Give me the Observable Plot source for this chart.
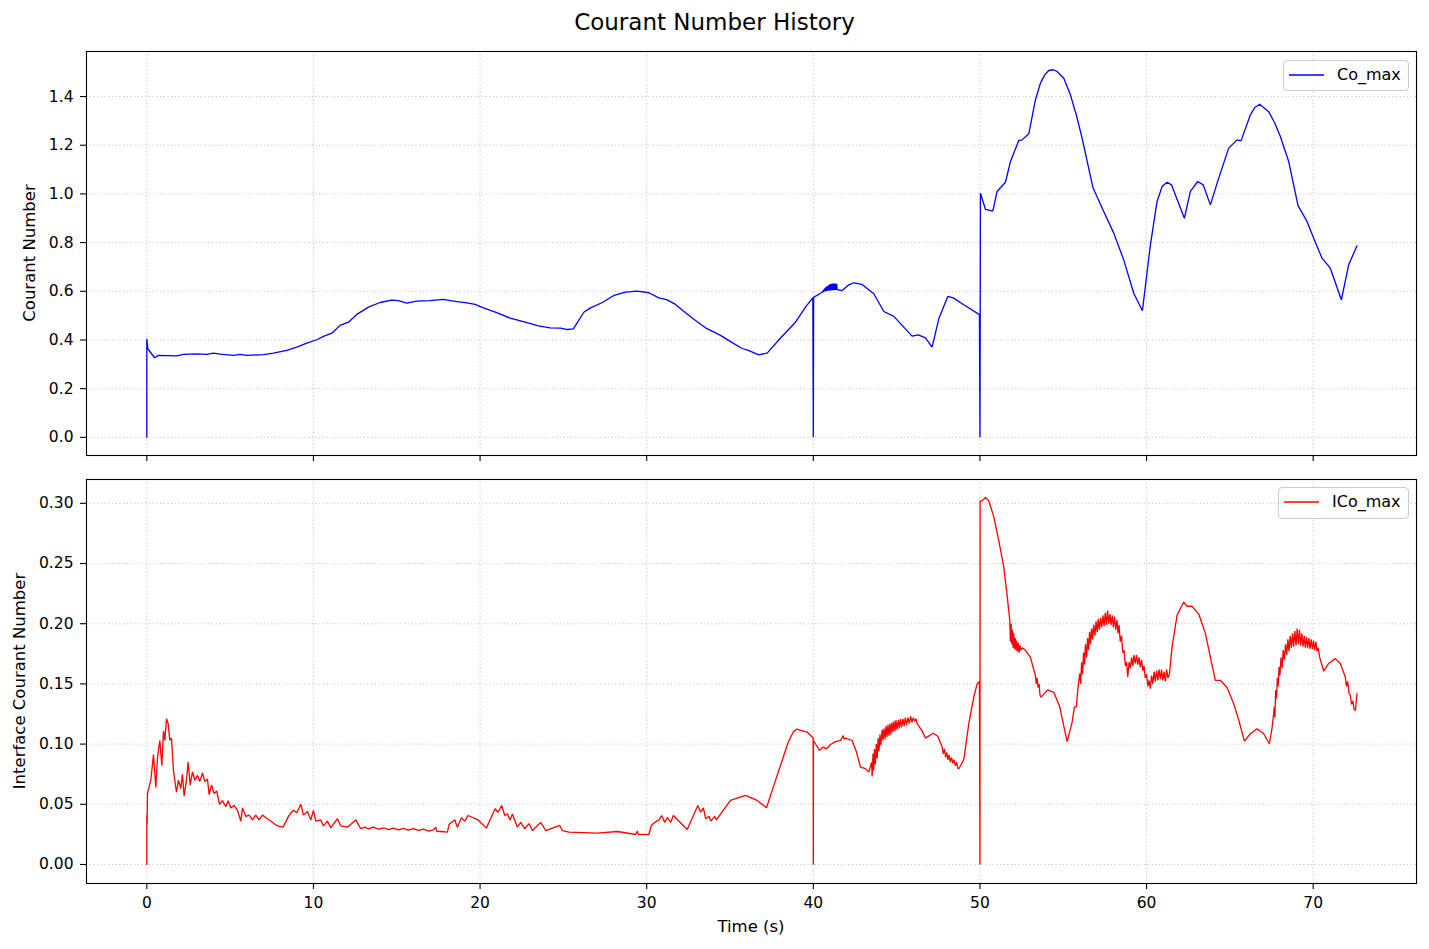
<!DOCTYPE html>
<html>
<head>
<meta charset="utf-8">
<script src="https://cdn.jsdelivr.net/npm/d3@7"></script>
<script src="https://cdn.jsdelivr.net/npm/@observablehq/plot@0.6"></script>
<style>
  html, body { margin: 0; padding: 0; background: #fff; }
  #fig { position: relative; width: 1429px; height: 949px; font-family: "DejaVu Sans", sans-serif; color: #000; overflow: hidden; }
  .abs { position: absolute; white-space: nowrap; }
  .rot { transform: translate(-50%, -50%) rotate(-90deg); }
  .ctr { transform: translate(-50%, -50%); }
  .ctr-y { transform: translate(0, -50%); }
  .legend { position: absolute; box-sizing: border-box; border: 1px solid #cccccc; border-radius: 4px; background: rgba(255,255,255,0.8); }
  svg.plot { position: absolute; left: 0; }
</style>
</head>
<body>
<div id="fig"></div>
<script>
// ---------------- data ----------------
const titleText = "Courant Number History";
const xLabel = "Time (s)";
const topLabel = "Courant Number";
const bottomLabel = "Interface Courant Number";
const topSeriesName = "Co_max";
const bottomSeriesName = "ICo_max";

const xTicks = [0, 10, 20, 30, 40, 50, 60, 70];
const topYTicks = [0.0, 0.2, 0.4, 0.6, 0.8, 1.0, 1.2, 1.4];
const bottomYTicks = [0.00, 0.05, 0.10, 0.15, 0.20, 0.25, 0.30];

// Co_max: [time, value]
const coMax = [
  [0,0],[0,0.405],[0.06,0.364],[0.46,0.327],[0.7,0.337],[1.8,0.335],[2.2,0.341],[3.0,0.343],[3.6,0.341],
  [4.0,0.346],[4.4,0.342],[5.2,0.337],[5.6,0.341],[6.0,0.337],[7.0,0.340],[7.6,0.346],[8.4,0.357],
  [9.0,0.371],[9.6,0.387],[10.2,0.401],[10.6,0.415],[11.1,0.428],[11.6,0.460],[12.1,0.473],[12.6,0.505],
  [13.3,0.535],[14.0,0.554],[14.7,0.564],[15.1,0.562],[15.6,0.551],[16.2,0.560],[17.0,0.562],[17.8,0.567],
  [18.4,0.560],[19.2,0.552],[19.7,0.546],[20.2,0.532],[21.0,0.512],[21.8,0.490],[22.6,0.475],[23.5,0.458],
  [24.2,0.450],[24.84,0.449],[25.23,0.443],[25.6,0.446],[26.23,0.514],[26.6,0.531],[27.34,0.554],
  [28.03,0.583],[28.73,0.597],[29.43,0.601],[30.13,0.594],[30.73,0.573],[31.2,0.566],[31.73,0.546],
  [32.33,0.512],[32.93,0.480],[33.53,0.450],[34.43,0.419],[35.13,0.389],[35.73,0.365],[36.1,0.357],
  [36.73,0.339],[37.23,0.346],[38.03,0.408],[38.93,0.473],[39.53,0.535],[39.97,0.573],[40.0,0],
  [40.02,0.575],[40.43,0.592],[40.50,0.594],[40.55,0.600],[40.58,0.596],[40.62,0.607],[40.65,0.599],
  [40.69,0.612],[40.72,0.601],[40.76,0.617],[40.79,0.602],[40.83,0.621],[40.86,0.603],[40.90,0.625],
  [40.93,0.603],[40.97,0.628],[41.00,0.604],[41.04,0.630],[41.07,0.604],[41.11,0.631],[41.14,0.605],
  [41.18,0.632],[41.21,0.605],[41.25,0.632],[41.28,0.606],[41.32,0.632],[41.36,0.606],[41.40,0.631],
  [41.43,0.607],[41.73,0.603],[42.1,0.625],[42.43,0.635],[42.93,0.628],[43.63,0.590],[44.23,0.517],
  [44.83,0.497],[45.93,0.416],[46.3,0.421],[46.73,0.409],[47.13,0.371],[47.53,0.487],[48.07,0.579],
  [48.4,0.573],[49.03,0.545],[49.97,0.504],[50.0,0],[50.03,1.003],[50.33,0.937],[50.77,0.929],
  [51.03,1.010],[51.53,1.048],[51.83,1.133],[52.33,1.219],[52.53,1.222],[52.93,1.247],[53.33,1.386],
  [53.63,1.455],[53.9,1.490],[54.13,1.507],[54.4,1.510],[54.63,1.503],[55.03,1.475],[55.43,1.407],
  [55.8,1.320],[56.13,1.229],[56.79,1.024],[57.43,0.928],[58.03,0.839],[58.63,0.729],[59.23,0.592],
  [59.75,0.520],[60.23,0.791],[60.63,0.969],[60.93,1.030],[61.23,1.048],[61.5,1.037],[62.27,0.900],
  [62.63,1.010],[63.07,1.051],[63.4,1.037],[63.83,0.955],[64.33,1.065],[64.93,1.188],[65.43,1.222],
  [65.67,1.218],[66.23,1.325],[66.5,1.355],[66.79,1.368],[67.33,1.338],[67.7,1.290],[68.03,1.236],
  [68.53,1.133],[69.09,0.952],[69.63,0.887],[70.03,0.818],[70.53,0.736],[71.03,0.695],[71.69,0.565],
  [72.13,0.709],[72.63,0.787]
];

// ICo_max: [time, value]
const icoMax = [
  [0,0],[0,0.041],[0.02,0.034],[0.04,0.059],[0.24,0.070],[0.4,0.0914],[0.54,0.064],[0.64,0.089],
  [0.78,0.103],[0.9,0.082],[1.0,0.111],[1.08,0.103],[1.18,0.121],[1.28,0.117],[1.38,0.103],[1.48,0.105],
  [1.6,0.078],[1.78,0.060],[1.9,0.070],[2.04,0.063],[2.14,0.075],[2.24,0.057],[2.38,0.070],[2.48,0.085],
  [2.6,0.066],[2.74,0.077],[2.88,0.070],[3.04,0.074],[3.18,0.069],[3.34,0.076],[3.48,0.069],[3.64,0.071],
  [3.74,0.058],[3.88,0.066],[4.04,0.059],[4.2,0.061],[4.36,0.050],[4.54,0.053],[4.74,0.048],[4.88,0.053],
  [5.04,0.047],[5.24,0.049],[5.44,0.045],[5.64,0.036],[5.74,0.047],[5.94,0.040],[6.14,0.041],[6.34,0.037],
  [6.54,0.041],[6.74,0.037],[6.94,0.041],[7.24,0.038],[7.84,0.032],[8.18,0.031],[8.54,0.041],[8.8,0.045],
  [9.0,0.043],[9.24,0.050],[9.4,0.041],[9.64,0.044],[9.84,0.037],[10.0,0.045],[10.14,0.036],[10.44,0.037],
  [10.6,0.032],[10.84,0.036],[11.04,0.0305],[11.44,0.038],[11.64,0.032],[12.04,0.031],[12.54,0.037],
  [12.84,0.0297],[13.1,0.031],[13.3,0.0295],[13.6,0.031],[13.9,0.0293],[14.2,0.0305],[14.5,0.029],
  [14.8,0.0302],[15.1,0.0288],[15.4,0.030],[15.7,0.0285],[16.0,0.0297],[16.3,0.0283],[16.6,0.0293],
  [16.9,0.0278],[17.2,0.0288],[17.34,0.031],[17.4,0.0275],[17.64,0.0274],[18.04,0.0269],[18.14,0.0333],
  [18.48,0.0371],[18.64,0.031],[18.88,0.0388],[19.08,0.036],[19.28,0.0407],[19.88,0.037],[20.38,0.0302],
  [20.9,0.0463],[21.08,0.0434],[21.3,0.049],[21.48,0.0407],[21.64,0.042],[21.8,0.037],[21.94,0.042],
  [22.24,0.031],[22.44,0.035],[22.68,0.0297],[22.94,0.034],[23.14,0.0282],[23.64,0.035],[23.94,0.0282],
  [24.78,0.0324],[24.94,0.0282],[25.34,0.0269],[26.2,0.0265],[27.04,0.026],[28.24,0.0274],[29.34,0.0249],
  [29.44,0.0277],[29.5,0.025],[30.13,0.0249],[30.28,0.0324],[30.48,0.035],[30.74,0.037],[30.9,0.0407],
  [31.08,0.035],[31.24,0.039],[31.44,0.035],[31.6,0.0407],[32.43,0.029],[33.07,0.049],[33.24,0.0434],
  [33.4,0.047],[33.54,0.038],[33.74,0.040],[33.84,0.036],[34.08,0.040],[34.18,0.037],[35.03,0.0532],
  [35.93,0.0574],[36.63,0.0532],[37.19,0.0471],[37.63,0.0657],[38.13,0.0864],[38.5,0.102],[38.8,0.110],
  [39.0,0.1125],[39.23,0.1114],[39.63,0.110],[39.99,0.105],[40.0,0],[40.01,0.103],[40.37,0.0948],
  [40.6,0.0975],[40.79,0.096],[41.03,0.0997],[41.33,0.102],[41.63,0.103],[41.79,0.107],[41.85,0.104],
  [41.93,0.105],[42.33,0.103],[42.59,0.0934],[42.83,0.0809],[43.13,0.0796],[43.33,0.0767],
  [43.50,0.085],[43.53,0.073],[43.58,0.092],[43.62,0.078],[43.67,0.096],[43.72,0.083],[43.78,0.100],
  [43.83,0.088],[43.89,0.105],[43.94,0.094],[44.0,0.108],[44.05,0.099],[44.13,0.112],[44.18,0.103],
  [44.24,0.113],[44.3,0.104],[44.36,0.115],[44.42,0.106],[44.48,0.116],[44.54,0.107],[44.6,0.117],
  [44.66,0.108],[44.72,0.118],[44.78,0.110],[44.84,0.119],[44.9,0.111],[44.96,0.120],[45.02,0.112],
  [45.1,0.120],[45.16,0.113],[45.23,0.121],[45.3,0.114],[45.38,0.121],[45.45,0.115],[45.52,0.122],
  [45.6,0.116],[45.68,0.122],[45.76,0.117],[45.84,0.123],[45.92,0.118],[46.0,0.122],[46.08,0.119],
  [46.16,0.121],[46.23,0.117],[46.53,0.111],[46.73,0.105],[47.19,0.109],[47.47,0.1065],[47.73,0.0975],
  [47.8,0.092],[47.87,0.096],[47.94,0.089],[48.01,0.093],[48.08,0.087],[48.15,0.091],[48.22,0.085],
  [48.3,0.089],[48.37,0.084],[48.45,0.087],[48.52,0.082],[48.6,0.085],[48.67,0.080],[48.73,0.0795],
  [49.03,0.087],[49.33,0.117],[49.63,0.139],[49.83,0.150],[49.97,0.152],[50.0,0],[50.01,0.302],
  [50.13,0.302],[50.33,0.305],[50.53,0.302],[50.83,0.289],[51.13,0.269],[51.43,0.247],[51.63,0.2236],
  [51.79,0.203],[51.83,0.185],[51.87,0.200],[51.91,0.183],[51.95,0.195],[51.99,0.180],[52.03,0.192],
  [52.07,0.179],[52.12,0.188],[52.16,0.178],[52.2,0.186],[52.25,0.177],[52.3,0.184],[52.35,0.176],
  [52.4,0.182],[52.45,0.178],[52.55,0.180],[52.73,0.178],[53.03,0.172],[53.33,0.157],[53.38,0.150],
  [53.43,0.155],[53.49,0.147],[53.55,0.150],[53.6,0.141],[53.67,0.139],[54.07,0.145],[54.43,0.143],
  [54.79,0.131],[55.23,0.102],[55.53,0.118],[55.67,0.131],[55.79,0.131],[55.87,0.145],[55.99,0.1585],
  [56.05,0.150],[56.1,0.168],[56.16,0.158],[56.22,0.176],[56.28,0.166],[56.33,0.183],[56.4,0.172],
  [56.46,0.188],[56.52,0.178],[56.58,0.193],[56.64,0.183],[56.7,0.196],[56.76,0.187],[56.83,0.199],
  [56.9,0.190],[56.97,0.202],[57.04,0.193],[57.1,0.204],[57.17,0.195],[57.24,0.205],[57.31,0.197],
  [57.38,0.207],[57.45,0.198],[57.52,0.209],[57.59,0.199],[57.66,0.211],[57.73,0.200],[57.8,0.208],
  [57.87,0.199],[57.94,0.207],[58.01,0.197],[58.08,0.206],[58.15,0.195],[58.22,0.203],[58.29,0.192],
  [58.35,0.199],[58.42,0.185],[58.5,0.190],[58.57,0.176],[58.65,0.178],[58.73,0.165],[58.8,0.168],
  [58.87,0.1557],[58.95,0.168],[59.03,0.163],[59.1,0.172],[59.17,0.165],[59.25,0.174],[59.32,0.167],
  [59.4,0.174],[59.47,0.166],[59.55,0.172],[59.62,0.164],[59.7,0.170],[59.77,0.161],[59.85,0.165],
  [59.92,0.155],[60.0,0.158],[60.08,0.148],[60.15,0.153],[60.23,0.146],[60.3,0.157],[60.37,0.150],
  [60.45,0.160],[60.52,0.152],[60.6,0.161],[60.68,0.153],[60.75,0.162],[60.83,0.154],[60.9,0.162],
  [60.98,0.153],[61.05,0.160],[61.13,0.152],[61.2,0.162],[61.28,0.155],[61.37,0.158],[61.53,0.1806],
  [61.83,0.207],[62.23,0.218],[62.43,0.2145],[62.73,0.2146],[63.13,0.208],[63.53,0.192],[63.83,0.172],
  [64.13,0.153],[64.43,0.153],[64.83,0.147],[65.23,0.1336],[65.53,0.120],[65.87,0.1025],[66.23,0.1086],
  [66.63,0.1128],[67.03,0.1086],[67.37,0.1003],[67.53,0.113],[67.67,0.131],[67.7,0.122],[67.75,0.145],
  [67.8,0.138],[67.85,0.155],[67.9,0.148],[67.95,0.164],[68.0,0.157],[68.07,0.172],[68.13,0.163],
  [68.2,0.178],[68.27,0.170],[68.34,0.183],[68.41,0.174],[68.48,0.187],[68.55,0.177],[68.62,0.190],
  [68.69,0.180],[68.76,0.192],[68.83,0.181],[68.9,0.194],[68.97,0.182],[69.04,0.196],[69.11,0.183],
  [69.18,0.195],[69.25,0.182],[69.32,0.192],[69.39,0.181],[69.46,0.190],[69.53,0.180],[69.6,0.189],
  [69.67,0.180],[69.74,0.188],[69.81,0.179],[69.88,0.187],[69.95,0.179],[70.02,0.186],[70.09,0.178],
  [70.16,0.185],[70.23,0.177],[70.3,0.180],[70.39,0.172],[70.63,0.1607],[70.93,0.167],[71.33,0.171],
  [71.63,0.167],[71.93,0.1557],[72.0,0.148],[72.07,0.152],[72.15,0.142],[72.23,0.1405],[72.3,0.133],
  [72.38,0.136],[72.45,0.129],[72.53,0.128],[72.58,0.135],[72.63,0.142]
];

// ---------------- layout ----------------
const W = 1429;
const xDomain = [-3.62, 76.2];
const common = {
  width: W,
  marginLeft: 86,
  marginRight: 13,
  style: { fontFamily: "DejaVu Sans, sans-serif", fontSize: "15.5px", color: "#000", background: "transparent", overflow: "visible" }
};
const gridStyle = { stroke: "#b0b0b0", strokeOpacity: 0.7, strokeWidth: 1, strokeDasharray: "1.3,2.4" };

function panel({ data, color, yDomain, yTicks, fmt, height, marginTop, marginBottom, showXLabels }) {
  return Plot.plot({
    ...common,
    height, marginTop, marginBottom,
    x: { domain: xDomain, label: null },
    y: { domain: yDomain, label: null },
    marks: [
      Plot.gridX({ ticks: xTicks, ...gridStyle }),
      Plot.gridY({ ticks: yTicks, ...gridStyle }),
      Plot.line(data, { x: d => d[0], y: d => d[1], stroke: color, strokeWidth: 1.3, strokeLinejoin: "miter" }),
      Plot.frame({ stroke: "#000", strokeWidth: 1.1 }),
      Plot.axisY({ ticks: yTicks, tickFormat: fmt, tickSize: 6, tickPadding: 7, label: null, strokeWidth: 1.1 }),
      showXLabels
        ? Plot.axisX({ ticks: xTicks, tickFormat: d => String(d), tickSize: 6, tickPadding: 7, label: null, strokeWidth: 1.1 })
        : Plot.axisX({ ticks: xTicks, tickSize: 6, label: null, fill: "none", strokeWidth: 1.1 })
    ]
  });
}

const fig = document.getElementById("fig");

const topSvg = panel({
  data: coMax, color: "#0000ff", yDomain: [-0.0745, 1.585], yTicks: topYTicks,
  fmt: d => d.toFixed(1), height: 470, marginTop: 51, marginBottom: 15, showXLabels: false
});
topSvg.classList.add("plot");
topSvg.style.top = "0px";
fig.appendChild(topSvg);

const bottomSvg = panel({
  data: icoMax, color: "#ff0000", yDomain: [-0.0158, 0.3198], yTicks: bottomYTicks,
  fmt: d => d.toFixed(2), height: 479, marginTop: 9, marginBottom: 66, showXLabels: true
});
bottomSvg.classList.add("plot");
bottomSvg.style.top = "470px";
fig.appendChild(bottomSvg);

function addText(txt, x, y, size, cls) {
  const d = document.createElement("div");
  d.className = "abs " + cls;
  d.style.left = x + "px";
  d.style.top = y + "px";
  d.style.fontSize = size + "px";
  d.style.lineHeight = "1";
  d.textContent = txt;
  fig.appendChild(d);
}
addText(titleText, 714.5, 22, 23, "ctr");
addText(xLabel, 751, 927, 16.5, "ctr");
addText(topLabel, 30, 253, 16.5, "rot");
addText(bottomLabel, 20, 681, 16.5, "rot");

function addLegend(name, color, box, lineX1, lineX2, lineY, textX) {
  const b = document.createElement("div");
  b.className = "legend";
  b.style.left = box[0] + "px"; b.style.top = box[1] + "px";
  b.style.width = box[2] + "px"; b.style.height = box[3] + "px";
  fig.appendChild(b);
  const s = d3.create("svg").attr("width", W).attr("height", 949)
    .style("position", "absolute").style("left", "0px").style("top", "0px").style("pointer-events", "none");
  s.append("line").attr("x1", lineX1).attr("x2", lineX2).attr("y1", lineY).attr("y2", lineY)
    .attr("stroke", color).attr("stroke-width", 1.3);
  fig.appendChild(s.node());
  addText(name, textX, lineY, 16, "ctr-y");
}
addLegend(topSeriesName, "#0000ff", [1283, 60, 126, 31], 1289, 1324, 75, 1337);
addLegend(bottomSeriesName, "#ff0000", [1278, 487, 131, 32], 1284, 1319, 502, 1332);
</script>
</body>
</html>
